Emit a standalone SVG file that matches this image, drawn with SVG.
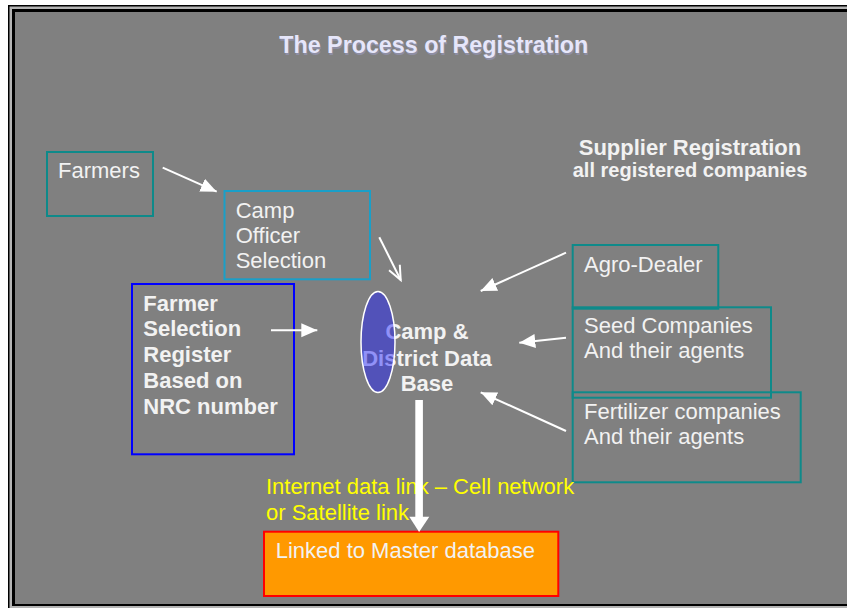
<svg xmlns="http://www.w3.org/2000/svg" width="847" height="608" viewBox="0 0 847 608">
<defs>
<style>
.t{font-family:"Liberation Sans",Arial,sans-serif;font-size:22px;fill:#f2f2f2}
.b{font-weight:bold}
.box{fill:none;stroke-width:2}
.teal{stroke:#0e8a8a}
.conn{stroke:#fff;stroke-width:2;fill:none}
.ttl{font-family:"Liberation Sans",Arial,sans-serif;font-size:24px;font-weight:bold}
</style>
<marker id="tri" markerUnits="userSpaceOnUse" markerWidth="18" markerHeight="16" refX="16" refY="7" orient="auto">
<path d="M0,0 L16,7 L0,14 z" fill="#fff"/>
</marker>
<marker id="vee" markerUnits="userSpaceOnUse" markerWidth="18" markerHeight="16" refX="15" refY="7" orient="auto">
<path d="M1,1 L15,7 L1,13" fill="none" stroke="#fff" stroke-width="2"/>
</marker>
</defs>
<rect x="0" y="0" width="847" height="608" fill="#fff"/>
<rect x="8" y="5" width="900" height="700" fill="#000"/>
<rect x="9.5" y="6.5" width="900" height="700" fill="#b4b4b4"/>
<rect x="12" y="9" width="900" height="597" fill="#000"/>
<rect x="15" y="12" width="900" height="592" fill="#808080"/>

<g id="title">
<text class="ttl" x="280.3" y="54.5" textLength="309" lengthAdjust="spacingAndGlyphs" fill="#8e8ea4">The Process of Registration</text>
<text class="ttl" x="279.3" y="53.3" textLength="309" lengthAdjust="spacingAndGlyphs" fill="#e6e6fa">The Process of Registration</text>
</g>

<g id="supplier-heading">
<text class="t b" x="690" y="155" text-anchor="middle">Supplier Registration</text>
<text class="t b" x="690" y="177.3" text-anchor="middle" style="font-size:20px">all registered companies</text>
</g>

<g id="farmers">
<rect class="box teal" x="47" y="152" width="106" height="64"/>
<text class="t" x="58" y="178">Farmers</text>
</g>

<g id="camp-officer">
<rect class="box" x="224.5" y="191" width="145.5" height="88.3" stroke="#1a9fc8"/>
<text class="t" x="235.7" y="218">Camp</text>
<text class="t" x="235.7" y="243">Officer</text>
<text class="t" x="235.7" y="268">Selection</text>
</g>

<g id="register">
<rect class="box" x="132" y="284" width="162" height="170.3" stroke="#0000ff"/>
<text class="t b" x="143.3" y="310.7">Farmer</text>
<text class="t b" x="143.3" y="336">Selection</text>
<text class="t b" x="143.3" y="362">Register</text>
<text class="t b" x="143.3" y="387.5">Based on</text>
<text class="t b" x="143.3" y="413.5">NRC number</text>
</g>

<g id="database">
<text class="t b" x="427" y="339.3" text-anchor="middle">Camp &amp;</text>
<text class="t b" x="427" y="366" text-anchor="middle">District Data</text>
<text class="t b" x="427" y="391" text-anchor="middle">Base</text>
<ellipse cx="378" cy="342" rx="17" ry="50.5" fill="#1a1aff" fill-opacity="0.45" stroke="#fff" stroke-width="1.5"/>
</g>

<g id="agro-dealer">
<rect class="box teal" x="572.7" y="245" width="145.6" height="63.7"/>
<text class="t" x="584" y="272">Agro-Dealer</text>
</g>

<g id="seed">
<rect class="box teal" x="572.7" y="307.3" width="198.3" height="90.4"/>
<text class="t" x="584" y="333.3">Seed Companies</text>
<text class="t" x="584" y="358.3">And their agents</text>
</g>

<g id="fertilizer">
<rect class="box teal" x="572.7" y="392.3" width="228" height="90"/>
<text class="t" x="584" y="419">Fertilizer companies</text>
<text class="t" x="584" y="444">And their agents</text>
</g>

<g id="link-label">
<text class="t" x="266" y="494.3" style="fill:#ffff00">Internet data link – Cell network</text>
<text class="t" x="266" y="520" style="fill:#ffff00">or Satellite link</text>
</g>

<g id="master">
<rect x="264" y="531.7" width="294.3" height="64.3" fill="#ff9900" stroke="#ff0000" stroke-width="2"/>
<text class="t" x="275.7" y="558.3">Linked to Master database</text>
</g>

<g id="connectors">
<line class="conn" x1="162.7" y1="167.7" x2="216.7" y2="191.7" marker-end="url(#tri)"/>
<line class="conn" x1="379.3" y1="237.3" x2="400.7" y2="280" marker-end="url(#vee)"/>
<line class="conn" x1="271" y1="330.3" x2="317.3" y2="330.3" marker-end="url(#tri)"/>
<line class="conn" x1="566" y1="252.7" x2="480.7" y2="291" marker-end="url(#tri)"/>
<line class="conn" x1="566" y1="337.7" x2="519.3" y2="342.7" marker-end="url(#tri)"/>
<line class="conn" x1="566" y1="431" x2="480.7" y2="392.3" marker-end="url(#tri)"/>
<rect x="415.3" y="400" width="7.6" height="118" fill="#fff"/>
<polygon points="409.3,516.7 429.3,516.7 419.1,532" fill="#fff"/>
</g>
</svg>
